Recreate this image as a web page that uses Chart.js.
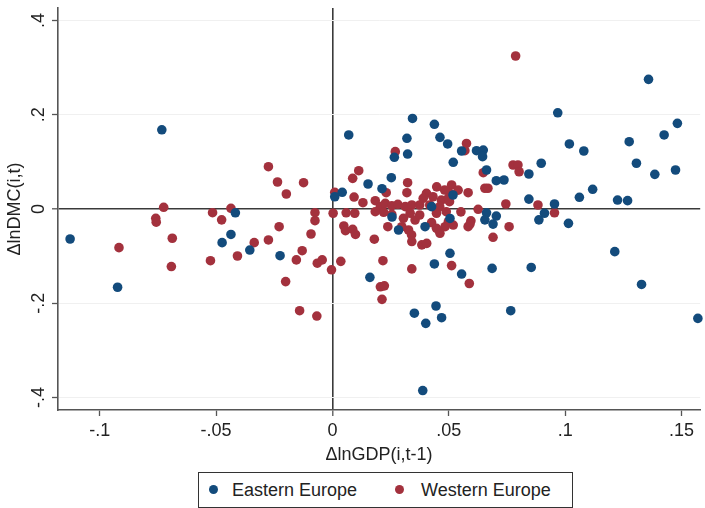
<!DOCTYPE html>
<html>
<head>
<meta charset="utf-8">
<script src="https://cdn.jsdelivr.net/npm/chart.js@4.4.0/dist/chart.umd.min.js"></script>
<style>
  body { margin: 0; background: #fff; font-family: "Liberation Sans", Arial, sans-serif; }
  #wrap { position: relative; width: 705px; height: 508px; }
  #legend {
    position: absolute; left: 198px; top: 472px; width: 373px; height: 34px;
    border: 1px solid #333; font-size: 18px; color: #222; background: #fff;
  }
  .item { position: absolute; top: 6px; line-height: 22px; }
  .dot { position: absolute; width: 9px; height: 9px; border-radius: 50%; top: 12px; }
</style>
</head>
<body>
<div id="wrap">
  <canvas id="chart" width="705" height="508"></canvas>
  <div id="legend">
    <span class="dot" style="left:10px;background:#134b7c"></span>
    <span class="item" style="left:33px">Eastern Europe</span>
    <span class="dot" style="left:196px;background:#a3313d"></span>
    <span class="item" style="left:222px">Western Europe</span>
  </div>
</div>
<script>
// Scatter: change in ln DMC vs lagged change in ln GDP

const X_TICKS = [-0.1, -0.05, 0, 0.05, 0.1, 0.15];
const Y_TICKS = [-0.4, -0.2, 0, 0.2, 0.4];

const eastX = [-0.1127, -0.0923, -0.0733, -0.0474, -0.0436, -0.0417, -0.0355, -0.0225, 0.0070, 0.0042,
  0.0010, 0.0153, 0.0253, 0.0213, 0.0266, 0.0161, 0.0256, 0.0284, 0.0344, 0.0438,
  0.0462, 0.0495, 0.0320, 0.0323, 0.0555, 0.0619, 0.0648, 0.0645, 0.0519, 0.0662,
  0.0844, 0.0897, 0.0704, 0.0737, 0.0844, 0.0954, 0.0426, 0.0911, 0.0887, 0.0662,
  0.0704, 0.0655, 0.0690, 0.0398, 0.0505, 0.0505, 0.0438, 0.0555, 0.0686, 0.0854,
  0.0352, 0.0401, 0.0445, 0.0469, 0.0766, 0.0388, 0.1358, 0.0968, 0.1018, 0.1080,
  0.1275, 0.1482, 0.1425, 0.1306, 0.1385, 0.1474, 0.1118, 0.1061, 0.1225, 0.1268,
  0.1014, 0.1213, 0.1328, 0.1570, 0.0518];
const eastY = [-0.0636, -0.166, 0.168, -0.0714, -0.054, -0.008, -0.087, -0.099, 0.157, 0.0354,
  0.026, 0.053, 0.0664, 0.0431, 0.1096, -0.145, -0.017, -0.0445, 0.192, 0.1796,
  0.152, 0.138, 0.150, 0.1166, 0.123, 0.1237, 0.125, 0.111, 0.099, 0.0827,
  0.0742, 0.097, 0.060, 0.0615, 0.021, 0.0106, 0.005, -0.009, -0.023, -0.008,
  -0.015, -0.023, -0.032, -0.0375, -0.020, -0.094, -0.1166, -0.138, -0.126, -0.124,
  -0.221, -0.2425, -0.2057, -0.2305, -0.2157, -0.385, 0.275, 0.204, 0.138, 0.123,
  0.1427, 0.1817, 0.157, 0.097, 0.0735, 0.0827, 0.0418, 0.0248, 0.019, 0.0177,
  -0.0304, -0.0905, -0.160, -0.232, 0.0297];

const westX = [-0.0917, -0.0759, -0.0757, -0.0725, -0.0688, -0.0692, -0.0515, -0.0476, -0.0436, -0.0524,
  -0.0408, -0.0336, -0.0275, -0.0229, -0.0275, -0.0236, -0.0198, -0.0124, -0.0201, -0.0075,
  -0.0075, -0.0092, -0.0130, -0.0155, -0.0065, -0.0044, -0.0004, 0.0036, -0.0141, -0.0067,
  0.0003, 0.0010, 0.0059, 0.0096, 0.0049, 0.0056, 0.0087, 0.0099, 0.0180, 0.0217,
  0.0206, 0.0223, 0.0213, 0.0270, 0.0113, 0.0087, 0.0231, 0.0093, 0.0131, 0.0184,
  0.0206, 0.0227, 0.0255, 0.0281, 0.0313, 0.0341, 0.0184, 0.0220, 0.0255, 0.0334,
  0.0305, 0.0355, 0.0238, 0.0327, 0.0340, 0.0384, 0.0405, 0.0341, 0.0298, 0.0323,
  0.0320, 0.0448, 0.0512, 0.0540, 0.0583, 0.0655, 0.0505, 0.0745, 0.0883, 0.0626,
  0.0787, 0.0576, 0.0569, 0.0648, 0.0776, 0.0797, 0.0802, 0.0552, 0.0954, 0.0595,
  0.0583, 0.0591, 0.0759, 0.0690, 0.0426, 0.0498, 0.0519, 0.0484, 0.0462, 0.0512,
  0.0588, 0.0341, 0.0404, 0.0482, 0.0668, 0.0390, 0.0432, 0.0468, 0.0497, 0.0375,
  0.0418, 0.0461, 0.0503, 0.0375, 0.0447, 0.0489, 0.0447];
const westY = [-0.082, -0.0198, -0.028, 0.0036, -0.062, -0.122, -0.0078, -0.023, 0.0015, -0.1096,
  -0.0997, -0.0714, -0.0657, -0.0375, 0.0897, 0.0573, 0.0318, 0.0558, -0.154, -0.0078,
  -0.0248, -0.053, -0.0884, -0.108, -0.115, -0.108, -0.129, -0.111, -0.2157, -0.227,
  -0.009, 0.0354, -0.008, -0.009, -0.036, -0.046, -0.043, -0.054, -0.064, -0.1096,
  -0.165, -0.163, -0.1916, 0.1216, 0.0812, 0.065, 0.0346, 0.0254, 0.0134, 0.0176,
  0.005, 0.012, 0.007, 0.010, 0.005, 0.0085, -0.0057, -0.007, -0.0112, -0.009,
  -0.0197, -0.0233, -0.0375, -0.0445, -0.055, -0.076, -0.073, -0.069, -0.0375, 0.0558,
  0.0346, 0.047, 0.051, 0.040, 0.0346, 0.044, 0.033, 0.0106, 0.0085, -0.0006,
  0.3245, 0.139, 0.1237, 0.077, 0.0933, 0.0933, 0.079, -0.006, -0.008, -0.025,
  -0.0375, -0.032, -0.0375, -0.060, -0.029, -0.027, -0.034, -0.0375, -0.0515, -0.120,
  -0.158, -0.127, 0.0333, 0.0403, 0.044, 0.0227, 0.026, 0.019, 0.0227, 0.0085,
  0.0085, 0.005, 0.0155, -0.0127, -0.009, -0.0057, -0.041];

const BLUE = "#134b7c";
const RED = "#a3313d";
const FONT = "'Liberation Sans', Arial, sans-serif";

function toPoints(xs, ys) {
  return xs.map((x, i) => ({ x, y: ys[i] }));
}

// Stata style labels: .05, -.2
function fmt(v) {
  if (v === 0) return "0";
  return (v < 0 ? "-" : "") + String(Math.abs(v)).replace(/^0/, "");
}

new Chart(document.getElementById("chart"), {
  type: "scatter",
  data: {
    datasets: [
      { label: "Eastern Europe", data: toPoints(eastX, eastY), backgroundColor: BLUE, borderColor: BLUE,
        borderWidth: 0, pointRadius: 4.8, pointHoverRadius: 4.8, clip: false },
      { label: "Western Europe", data: toPoints(westX, westY), backgroundColor: RED, borderColor: RED,
        borderWidth: 0, pointRadius: 4.8, pointHoverRadius: 4.8, clip: false },
    ],
  },
  options: {
    responsive: false,
    animation: false,
    layout: { padding: { left: 0, right: 2, top: 8, bottom: 42 } },
    plugins: { legend: { display: false }, tooltip: { enabled: false } },
    scales: {
      x: {
        type: "linear",
        min: -0.1179,
        max: 0.158,
        afterBuildTicks: (s) => { s.ticks = X_TICKS.map((v) => ({ value: v })); },
        afterFit: (s) => { s.height = 56; s.paddingLeft = 0; s.paddingRight = 0; },
        ticks: { callback: (v) => fmt(v), color: "#222", font: { family: FONT, size: 18 }, padding: 4, maxRotation: 0 },
        grid: {
          drawOnChartArea: true,
          color: (c) => (c.tick && c.tick.value === 0 ? "#3a3a3a" : "rgba(0,0,0,0)"),
          lineWidth: (c) => (c.tick && c.tick.value === 0 ? 1.6 : 1),
          tickColor: "#555",
          tickLength: 6,
          tickWidth: 1.3,
        },
        border: { color: "#555", width: 1.6 },
        title: { display: true, text: "ΔlnGDP(i,t-1)", color: "#222", font: { family: FONT, size: 18 }, padding: { top: 0, bottom: 0 } },
      },
      y: {
        type: "linear",
        min: -0.4263,
        max: 0.4263,
        afterBuildTicks: (s) => { s.ticks = Y_TICKS.map((v) => ({ value: v })); },
        afterFit: (s) => { s.width = 58; s.paddingTop = 0; s.paddingBottom = 0; },
        ticks: { callback: (v) => fmt(v), color: "#222", font: { family: FONT, size: 18 }, padding: 2,
          minRotation: 90, maxRotation: 90, crossAlign: "center" },
        grid: {
          color: (c) => (c.tick && c.tick.value === 0 ? "#3a3a3a" : "#f0f0f0"),
          lineWidth: (c) => (c.tick && c.tick.value === 0 ? 1.6 : 1),
          tickColor: "#555",
          tickLength: 6,
          tickWidth: 1.3,
        },
        border: { color: "#555", width: 1.6 },
        title: { display: true, text: "ΔlnDMC(i,t)", color: "#222", font: { family: FONT, size: 18 }, padding: { top: 4, bottom: 0 } },
      },
    },
  },
});
</script>
</body>
</html>
